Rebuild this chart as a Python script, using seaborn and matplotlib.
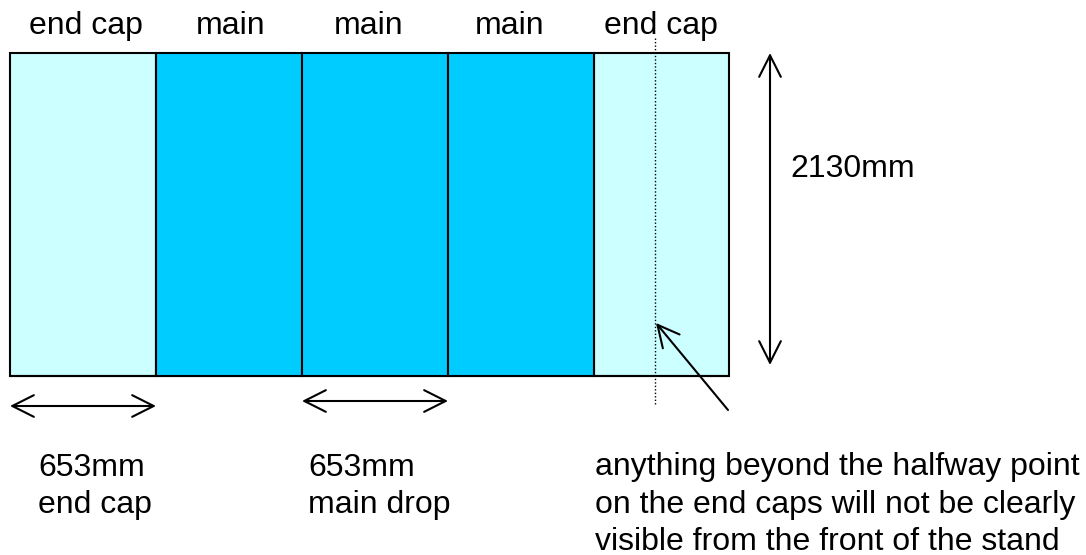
import numpy as np
import pandas as pd
import matplotlib
matplotlib.use('Agg')
import matplotlib.pyplot as plt
import seaborn as sns

# ── Datos del panel ────────────────────────────────────────────────────────
panel_kind    = ["end cap", "main", "main", "main", "end cap"]
panel_width   = [653, 653, 653, 653, 604]   # last one is drawn narrower in the original
panel_height  = [2130, 2130, 2130, 2130, 2130]
top_labels    = ["end cap", "main", "main", "main", "end cap"]
height_label  = "2130mm"
width_labels  = ["653mm\nend cap", "653mm\nmain drop"]
note_text     = ("anything beyond the halfway point\n"
                 "on the end caps will not be clearly\n"
                 "visible from the front of the stand")
colores = {"end cap": "#CCFFFF", "main": "#00CCFF"}

edges = [0] + list(np.cumsum(panel_width).astype(float))
df = pd.DataFrame({
    "kind": panel_kind,
    "center": [(a + b) / 2 for a, b in zip(edges[:-1], edges[1:])],
    "height": panel_height,
})

# ── Escala: mm por pixel del dibujo original ───────────────────────────────
W, H = 1086, 555
sx = panel_width[0] / 146.0
sy = panel_height[0] / 323.0
X0, Y0 = 10, 376          # pixel del borde inferior izquierdo del panel

def px(x, y):
    return (x - X0) * sx, (Y0 - y) * sy

sns.set_style("white")
plt.rcParams['font.family'] = ['Liberation Sans', 'DejaVu Sans']
plt.rcParams['text.color'] = 'black'

fig = plt.figure(figsize=(W / 100, H / 100), dpi=100)
ax = fig.add_axes([0, 0, 1, 1])

for kind in ["end cap", "main"]:
    sub = df[df["kind"] == kind]
    sns.histplot(data=sub, x="center", weights="height", bins=edges,
                 color=colores[kind], alpha=1, edgecolor="black",
                 linewidth=1.5, ax=ax)

ax.set_xlim(px(0, 0)[0], px(W, 0)[0])
ax.set_ylim(px(0, H)[1], px(0, 0)[1])
ax.set_axis_off()

FS = 23
LS = 1.32
# etiquetas superiores
for lab, xp in zip(top_labels, [86, 231, 369, 510, 661]):
    ax.text(*px(xp, 34), lab, ha='center', va='baseline', fontsize=FS,
            color='black')

# línea punteada (mitad del end cap)
ax.plot(*zip(px(655, 38), px(655, 405)), color='black', lw=1,
        linestyle=(0, (1, 1.5)))

def flecha(a, b, style='<->'):
    ax.annotate('', xy=b, xytext=a,
                arrowprops=dict(arrowstyle=f'{style},head_length=15.5,head_width=7.8',
                                lw=1.5, color='black', shrinkA=0, shrinkB=0,
                                mutation_scale=1))

# altura
flecha(px(770, 53), px(770, 365))
ax.text(*px(790, 177), height_label, ha='left', va='baseline', fontsize=FS,
        color='black')

# anchos (baseline = última línea)
flecha((edges[0], px(0, 406)[1]), (edges[1], px(0, 406)[1]))
flecha((edges[2], px(0, 401)[1]), (edges[3], px(0, 401)[1]))
ax.text(*px(38, 513), width_labels[0], ha='left', va='baseline', fontsize=FS,
        linespacing=LS, color='black')
ax.text(*px(308, 513), width_labels[1], ha='left', va='baseline', fontsize=FS,
        linespacing=LS, color='black')

# nota
flecha(px(728, 410), px(656, 323), style='->')
ax.text(*px(595, 550), note_text, ha='left', va='baseline', fontsize=FS,
        linespacing=LS, color='black')

plt.savefig('out.png', dpi=100)
plt.close()
